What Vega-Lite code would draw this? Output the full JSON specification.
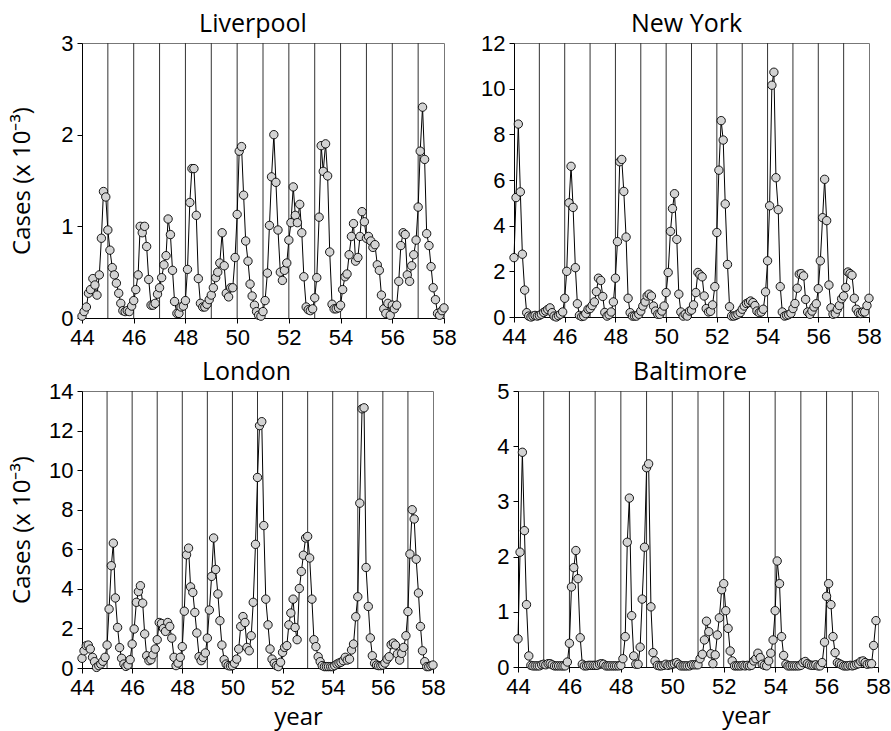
{
"$schema":"https://vega.github.io/schema/vega-lite/v6.json",
"background":"white",
"padding":{"left":9,"top":11,"right":3,"bottom":2},
"config":{
 "view":{"stroke":"#777","strokeWidth":1},
 "axis":{"domainColor":"#000","tickColor":"#000","tickSize":5,"labelPadding":4,"labelFont":"Liberation Sans","labelFontSize":22,"labelColor":"#000","titleFont":"Open Sans","titleFontSize":24,"titleFontWeight":"normal","titleColor":"#000","grid":false,"labelFlush":false,"labelOverlap":false,"labelBound":false,"format":"d"},
 "title":{"font":"Open Sans","fontSize":25,"fontWeight":"normal","color":"#000","offset":-5}
},
"datasets":{
"yrs":[{"t":45},{"t":46},{"t":47},{"t":48},{"t":49},{"t":50},{"t":51},{"t":52},{"t":53},{"t":54},{"t":55},{"t":56},{"t":57}],
"liv":[
{"t":44.00,"v":0.02},{"t":44.08,"v":0.07},{"t":44.17,"v":0.12},{"t":44.25,"v":0.27},{"t":44.33,"v":0.31},{"t":44.42,"v":0.43},{"t":44.50,"v":0.36},{"t":44.58,"v":0.25},{"t":44.67,"v":0.47},{"t":44.75,"v":0.87},{"t":44.83,"v":1.38},{"t":44.92,"v":1.32},
{"t":45.00,"v":0.96},{"t":45.08,"v":0.74},{"t":45.17,"v":0.55},{"t":45.25,"v":0.47},{"t":45.33,"v":0.38},{"t":45.42,"v":0.27},{"t":45.50,"v":0.16},{"t":45.58,"v":0.08},{"t":45.67,"v":0.07},{"t":45.75,"v":0.08},{"t":45.83,"v":0.07},{"t":45.92,"v":0.13},
{"t":46.00,"v":0.19},{"t":46.08,"v":0.31},{"t":46.17,"v":0.47},{"t":46.25,"v":1.0},{"t":46.33,"v":0.93},{"t":46.42,"v":1.0},{"t":46.50,"v":0.78},{"t":46.58,"v":0.42},{"t":46.67,"v":0.14},{"t":46.75,"v":0.14},{"t":46.83,"v":0.16},{"t":46.92,"v":0.26},
{"t":47.00,"v":0.33},{"t":47.08,"v":0.44},{"t":47.17,"v":0.58},{"t":47.25,"v":0.68},{"t":47.33,"v":1.08},{"t":47.42,"v":0.91},{"t":47.50,"v":0.52},{"t":47.58,"v":0.18},{"t":47.67,"v":0.05},{"t":47.75,"v":0.05},{"t":47.83,"v":0.12},{"t":47.92,"v":0.13},
{"t":48.00,"v":0.19},{"t":48.08,"v":0.53},{"t":48.17,"v":1.26},{"t":48.25,"v":1.63},{"t":48.33,"v":1.63},{"t":48.42,"v":1.12},{"t":48.50,"v":0.43},{"t":48.58,"v":0.16},{"t":48.67,"v":0.12},{"t":48.75,"v":0.12},{"t":48.83,"v":0.15},{"t":48.92,"v":0.2},
{"t":49.00,"v":0.25},{"t":49.08,"v":0.33},{"t":49.17,"v":0.44},{"t":49.25,"v":0.5},{"t":49.33,"v":0.6},{"t":49.42,"v":0.93},{"t":49.50,"v":0.57},{"t":49.58,"v":0.27},{"t":49.67,"v":0.23},{"t":49.75,"v":0.33},{"t":49.83,"v":0.33},{"t":49.92,"v":0.66},
{"t":50.00,"v":1.13},{"t":50.08,"v":1.82},{"t":50.17,"v":1.87},{"t":50.25,"v":1.34},{"t":50.33,"v":0.84},{"t":50.42,"v":0.62},{"t":50.50,"v":0.37},{"t":50.58,"v":0.24},{"t":50.67,"v":0.14},{"t":50.75,"v":0.07},{"t":50.83,"v":0.03},{"t":50.92,"v":0.02},
{"t":51.00,"v":0.07},{"t":51.08,"v":0.19},{"t":51.17,"v":0.49},{"t":51.25,"v":1.01},{"t":51.33,"v":1.54},{"t":51.42,"v":2.0},{"t":51.50,"v":1.48},{"t":51.58,"v":0.96},{"t":51.67,"v":0.5},{"t":51.75,"v":0.41},{"t":51.83,"v":0.52},{"t":51.92,"v":0.6},
{"t":52.00,"v":0.85},{"t":52.08,"v":1.04},{"t":52.17,"v":1.43},{"t":52.25,"v":1.12},{"t":52.33,"v":1.04},{"t":52.42,"v":1.24},{"t":52.50,"v":0.93},{"t":52.58,"v":0.45},{"t":52.67,"v":0.12},{"t":52.75,"v":0.09},{"t":52.83,"v":0.08},{"t":52.92,"v":0.1},
{"t":53.00,"v":0.22},{"t":53.08,"v":0.44},{"t":53.17,"v":1.1},{"t":53.25,"v":1.88},{"t":53.33,"v":1.6},{"t":53.42,"v":1.9},{"t":53.50,"v":1.55},{"t":53.58,"v":0.72},{"t":53.67,"v":0.15},{"t":53.75,"v":0.1},{"t":53.83,"v":0.1},{"t":53.92,"v":0.11},
{"t":54.00,"v":0.14},{"t":54.08,"v":0.31},{"t":54.17,"v":0.45},{"t":54.25,"v":0.48},{"t":54.33,"v":0.69},{"t":54.42,"v":0.89},{"t":54.50,"v":1.03},{"t":54.58,"v":0.62},{"t":54.67,"v":0.66},{"t":54.75,"v":0.89},{"t":54.83,"v":1.16},{"t":54.92,"v":1.05},
{"t":55.00,"v":0.87},{"t":55.08,"v":0.89},{"t":55.17,"v":0.84},{"t":55.25,"v":0.77},{"t":55.33,"v":0.8},{"t":55.42,"v":0.58},{"t":55.50,"v":0.52},{"t":55.58,"v":0.25},{"t":55.67,"v":0.1},{"t":55.75,"v":0.05},{"t":55.83,"v":0.16},{"t":55.92,"v":0.03},
{"t":56.00,"v":0.14},{"t":56.08,"v":0.1},{"t":56.17,"v":0.14},{"t":56.25,"v":0.4},{"t":56.33,"v":0.79},{"t":56.42,"v":0.93},{"t":56.50,"v":0.91},{"t":56.58,"v":0.47},{"t":56.67,"v":0.4},{"t":56.75,"v":0.57},{"t":56.83,"v":0.69},{"t":56.92,"v":0.85},
{"t":57.00,"v":1.21},{"t":57.08,"v":1.82},{"t":57.17,"v":2.3},{"t":57.25,"v":1.73},{"t":57.33,"v":0.92},{"t":57.42,"v":0.79},{"t":57.50,"v":0.56},{"t":57.58,"v":0.33},{"t":57.67,"v":0.2},{"t":57.75,"v":0.05},{"t":57.83,"v":0.03},{"t":57.92,"v":0.08},
{"t":58.00,"v":0.11}],
"ny":[
{"t":44.00,"v":2.6},{"t":44.08,"v":5.23},{"t":44.17,"v":8.45},{"t":44.25,"v":5.48},{"t":44.33,"v":2.75},{"t":44.42,"v":1.18},{"t":44.50,"v":0.19},{"t":44.58,"v":0.04},{"t":44.67,"v":0.0},{"t":44.75,"v":0.04},{"t":44.83,"v":0.07},{"t":44.92,"v":0.04},
{"t":45.00,"v":0.07},{"t":45.08,"v":0.12},{"t":45.17,"v":0.2},{"t":45.25,"v":0.26},{"t":45.33,"v":0.33},{"t":45.42,"v":0.4},{"t":45.50,"v":0.19},{"t":45.58,"v":0.04},{"t":45.67,"v":0.0},{"t":45.75,"v":0.06},{"t":45.83,"v":0.12},{"t":45.92,"v":0.22},
{"t":46.00,"v":0.82},{"t":46.08,"v":2.0},{"t":46.17,"v":5.0},{"t":46.25,"v":6.6},{"t":46.33,"v":4.8},{"t":46.42,"v":2.16},{"t":46.50,"v":0.58},{"t":46.58,"v":0.07},{"t":46.67,"v":0.02},{"t":46.75,"v":0.04},{"t":46.83,"v":0.15},{"t":46.92,"v":0.34},
{"t":47.00,"v":0.37},{"t":47.08,"v":0.5},{"t":47.17,"v":0.66},{"t":47.25,"v":1.11},{"t":47.33,"v":1.7},{"t":47.42,"v":1.6},{"t":47.50,"v":0.9},{"t":47.58,"v":0.2},{"t":47.67,"v":0.04},{"t":47.75,"v":0.1},{"t":47.83,"v":0.22},{"t":47.92,"v":0.66},
{"t":48.00,"v":1.7},{"t":48.08,"v":3.3},{"t":48.17,"v":6.8},{"t":48.25,"v":6.9},{"t":48.33,"v":5.5},{"t":48.42,"v":3.5},{"t":48.50,"v":0.82},{"t":48.58,"v":0.19},{"t":48.67,"v":0.04},{"t":48.75,"v":0.04},{"t":48.83,"v":0.04},{"t":48.92,"v":0.12},
{"t":49.00,"v":0.26},{"t":49.08,"v":0.48},{"t":49.17,"v":0.66},{"t":49.25,"v":0.92},{"t":49.33,"v":1.0},{"t":49.42,"v":0.92},{"t":49.50,"v":0.48},{"t":49.58,"v":0.26},{"t":49.67,"v":0.12},{"t":49.75,"v":0.12},{"t":49.83,"v":0.26},{"t":49.92,"v":0.48},
{"t":50.00,"v":1.07},{"t":50.08,"v":1.95},{"t":50.17,"v":3.75},{"t":50.25,"v":4.75},{"t":50.33,"v":5.4},{"t":50.42,"v":3.4},{"t":50.50,"v":1.0},{"t":50.58,"v":0.22},{"t":50.67,"v":0.04},{"t":50.75,"v":0.12},{"t":50.83,"v":0.04},{"t":50.92,"v":0.26},
{"t":51.00,"v":0.3},{"t":51.08,"v":0.53},{"t":51.17,"v":1.07},{"t":51.25,"v":1.95},{"t":51.33,"v":1.85},{"t":51.42,"v":1.76},{"t":51.50,"v":0.92},{"t":51.58,"v":0.37},{"t":51.67,"v":0.22},{"t":51.75,"v":0.25},{"t":51.83,"v":0.53},{"t":51.92,"v":1.33},
{"t":52.00,"v":3.7},{"t":52.08,"v":6.43},{"t":52.17,"v":8.6},{"t":52.25,"v":7.75},{"t":52.33,"v":4.95},{"t":52.42,"v":2.3},{"t":52.50,"v":0.45},{"t":52.58,"v":0.04},{"t":52.67,"v":0.04},{"t":52.75,"v":0.07},{"t":52.83,"v":0.12},{"t":52.92,"v":0.19},
{"t":53.00,"v":0.34},{"t":53.08,"v":0.48},{"t":53.17,"v":0.59},{"t":53.25,"v":0.63},{"t":53.33,"v":0.7},{"t":53.42,"v":0.63},{"t":53.50,"v":0.5},{"t":53.58,"v":0.26},{"t":53.67,"v":0.19},{"t":53.75,"v":0.22},{"t":53.83,"v":0.34},{"t":53.92,"v":1.1},
{"t":54.00,"v":2.46},{"t":54.08,"v":4.87},{"t":54.17,"v":10.15},{"t":54.25,"v":10.72},{"t":54.33,"v":6.1},{"t":54.42,"v":4.7},{"t":54.50,"v":1.33},{"t":54.58,"v":0.22},{"t":54.67,"v":0.04},{"t":54.75,"v":0.07},{"t":54.83,"v":0.1},{"t":54.92,"v":0.16},
{"t":55.00,"v":0.37},{"t":55.08,"v":0.59},{"t":55.17,"v":1.26},{"t":55.25,"v":1.88},{"t":55.33,"v":1.9},{"t":55.42,"v":1.8},{"t":55.50,"v":0.77},{"t":55.58,"v":0.22},{"t":55.67,"v":0.12},{"t":55.75,"v":0.26},{"t":55.83,"v":0.44},{"t":55.92,"v":0.58},
{"t":56.00,"v":1.24},{"t":56.08,"v":2.46},{"t":56.17,"v":4.35},{"t":56.25,"v":6.03},{"t":56.33,"v":4.22},{"t":56.42,"v":1.4},{"t":56.50,"v":0.4},{"t":56.58,"v":0.12},{"t":56.67,"v":0.15},{"t":56.75,"v":0.34},{"t":56.83,"v":0.5},{"t":56.92,"v":0.8},
{"t":57.00,"v":0.92},{"t":57.08,"v":1.29},{"t":57.17,"v":1.97},{"t":57.25,"v":1.9},{"t":57.33,"v":1.83},{"t":57.42,"v":0.82},{"t":57.50,"v":0.34},{"t":57.58,"v":0.19},{"t":57.67,"v":0.15},{"t":57.75,"v":0.22},{"t":57.83,"v":0.22},{"t":57.92,"v":0.5},
{"t":58.00,"v":0.82}],
"lon":[
{"t":44.00,"v":0.49},{"t":44.08,"v":0.87},{"t":44.17,"v":1.13},{"t":44.25,"v":1.16},{"t":44.33,"v":0.96},{"t":44.42,"v":0.54},{"t":44.50,"v":0.32},{"t":44.58,"v":0.03},{"t":44.67,"v":0.12},{"t":44.75,"v":0.2},{"t":44.83,"v":0.34},{"t":44.92,"v":0.54},
{"t":45.00,"v":1.16},{"t":45.08,"v":2.98},{"t":45.17,"v":5.17},{"t":45.25,"v":6.31},{"t":45.33,"v":3.54},{"t":45.42,"v":2.05},{"t":45.50,"v":1.03},{"t":45.58,"v":0.49},{"t":45.67,"v":0.2},{"t":45.75,"v":0.08},{"t":45.83,"v":0.15},{"t":45.92,"v":0.42},
{"t":46.00,"v":1.21},{"t":46.08,"v":1.97},{"t":46.17,"v":3.32},{"t":46.25,"v":3.86},{"t":46.33,"v":4.16},{"t":46.42,"v":3.28},{"t":46.50,"v":1.72},{"t":46.58,"v":0.62},{"t":46.67,"v":0.37},{"t":46.75,"v":0.42},{"t":46.83,"v":0.67},{"t":46.92,"v":0.96},
{"t":47.00,"v":1.43},{"t":47.08,"v":2.3},{"t":47.17,"v":2.25},{"t":47.25,"v":2.0},{"t":47.33,"v":1.85},{"t":47.42,"v":2.3},{"t":47.50,"v":2.1},{"t":47.58,"v":1.51},{"t":47.67,"v":0.54},{"t":47.75,"v":0.12},{"t":47.83,"v":0.25},{"t":47.92,"v":0.54},
{"t":48.00,"v":1.08},{"t":48.08,"v":2.87},{"t":48.17,"v":5.72},{"t":48.25,"v":6.06},{"t":48.33,"v":4.1},{"t":48.42,"v":3.82},{"t":48.50,"v":2.81},{"t":48.58,"v":1.77},{"t":48.67,"v":0.57},{"t":48.75,"v":0.37},{"t":48.83,"v":0.54},{"t":48.92,"v":0.76},
{"t":49.00,"v":1.51},{"t":49.08,"v":2.93},{"t":49.17,"v":4.63},{"t":49.25,"v":6.57},{"t":49.33,"v":4.98},{"t":49.42,"v":3.74},{"t":49.50,"v":2.39},{"t":49.58,"v":1.16},{"t":49.67,"v":0.42},{"t":49.75,"v":0.2},{"t":49.83,"v":0.12},{"t":49.92,"v":0.1},
{"t":50.00,"v":0.12},{"t":50.08,"v":0.24},{"t":50.17,"v":0.45},{"t":50.25,"v":0.96},{"t":50.33,"v":2.1},{"t":50.42,"v":2.6},{"t":50.50,"v":2.3},{"t":50.58,"v":1.04},{"t":50.67,"v":0.87},{"t":50.75,"v":1.63},{"t":50.83,"v":3.32},{"t":50.92,"v":6.25},
{"t":51.00,"v":9.63},{"t":51.08,"v":12.25},{"t":51.17,"v":12.45},{"t":51.25,"v":7.2},{"t":51.33,"v":3.48},{"t":51.42,"v":2.18},{"t":51.50,"v":0.96},{"t":51.58,"v":0.45},{"t":51.67,"v":0.24},{"t":51.75,"v":0.12},{"t":51.83,"v":0.07},{"t":51.92,"v":0.29},
{"t":52.00,"v":0.79},{"t":52.08,"v":1.04},{"t":52.17,"v":1.13},{"t":52.25,"v":2.18},{"t":52.33,"v":2.78},{"t":52.42,"v":3.48},{"t":52.50,"v":2.05},{"t":52.58,"v":1.43},{"t":52.67,"v":4.02},{"t":52.75,"v":4.88},{"t":52.83,"v":5.7},{"t":52.92,"v":6.57},
{"t":53.00,"v":6.65},{"t":53.08,"v":5.56},{"t":53.17,"v":3.48},{"t":53.25,"v":1.43},{"t":53.33,"v":1.08},{"t":53.42,"v":0.57},{"t":53.50,"v":0.32},{"t":53.58,"v":0.12},{"t":53.67,"v":0.07},{"t":53.75,"v":0.07},{"t":53.83,"v":0.07},{"t":53.92,"v":0.07},
{"t":54.00,"v":0.07},{"t":54.08,"v":0.12},{"t":54.17,"v":0.2},{"t":54.25,"v":0.25},{"t":54.33,"v":0.29},{"t":54.42,"v":0.37},{"t":54.50,"v":0.54},{"t":54.58,"v":0.4},{"t":54.67,"v":0.45},{"t":54.75,"v":0.91},{"t":54.83,"v":1.21},{"t":54.92,"v":2.59},
{"t":55.00,"v":3.6},{"t":55.08,"v":8.33},{"t":55.17,"v":13.1},{"t":55.25,"v":13.15},{"t":55.33,"v":5.08},{"t":55.42,"v":3.11},{"t":55.50,"v":1.52},{"t":55.58,"v":0.62},{"t":55.67,"v":0.24},{"t":55.75,"v":0.15},{"t":55.83,"v":0.12},{"t":55.92,"v":0.12},
{"t":56.00,"v":0.15},{"t":56.08,"v":0.25},{"t":56.17,"v":0.45},{"t":56.25,"v":0.57},{"t":56.33,"v":1.18},{"t":56.42,"v":1.26},{"t":56.50,"v":1.16},{"t":56.58,"v":0.71},{"t":56.67,"v":0.4},{"t":56.75,"v":0.74},{"t":56.83,"v":1.04},{"t":56.92,"v":1.63},
{"t":57.00,"v":2.85},{"t":57.08,"v":5.76},{"t":57.17,"v":8.0},{"t":57.25,"v":7.53},{"t":57.33,"v":5.5},{"t":57.42,"v":3.79},{"t":57.50,"v":2.1},{"t":57.58,"v":0.87},{"t":57.67,"v":0.32},{"t":57.75,"v":0.07},{"t":57.83,"v":0.07},{"t":57.92,"v":0.12},
{"t":58.00,"v":0.15}],
"bal":[
{"t":44.00,"v":0.51},{"t":44.08,"v":2.08},{"t":44.17,"v":3.89},{"t":44.25,"v":2.47},{"t":44.33,"v":1.13},{"t":44.42,"v":0.2},{"t":44.50,"v":0.03},{"t":44.58,"v":0.02},{"t":44.67,"v":0.02},{"t":44.75,"v":0.02},{"t":44.83,"v":0.02},{"t":44.92,"v":0.04},
{"t":45.00,"v":0.05},{"t":45.08,"v":0.04},{"t":45.17,"v":0.06},{"t":45.25,"v":0.06},{"t":45.33,"v":0.04},{"t":45.42,"v":0.02},{"t":45.50,"v":0.02},{"t":45.58,"v":0.02},{"t":45.67,"v":0.02},{"t":45.75,"v":0.02},{"t":45.83,"v":0.02},{"t":45.92,"v":0.09},
{"t":46.00,"v":0.43},{"t":46.08,"v":1.45},{"t":46.17,"v":1.8},{"t":46.25,"v":2.11},{"t":46.33,"v":1.6},{"t":46.42,"v":0.53},{"t":46.50,"v":0.05},{"t":46.58,"v":0.02},{"t":46.67,"v":0.02},{"t":46.75,"v":0.03},{"t":46.83,"v":0.03},{"t":46.92,"v":0.03},
{"t":47.00,"v":0.03},{"t":47.08,"v":0.03},{"t":47.17,"v":0.05},{"t":47.25,"v":0.06},{"t":47.33,"v":0.05},{"t":47.42,"v":0.02},{"t":47.50,"v":0.02},{"t":47.58,"v":0.02},{"t":47.67,"v":0.02},{"t":47.75,"v":0.02},{"t":47.83,"v":0.02},{"t":47.92,"v":0.02},
{"t":48.00,"v":0.03},{"t":48.08,"v":0.15},{"t":48.17,"v":0.55},{"t":48.25,"v":2.26},{"t":48.33,"v":3.06},{"t":48.42,"v":0.93},{"t":48.50,"v":0.2},{"t":48.58,"v":0.05},{"t":48.67,"v":0.05},{"t":48.75,"v":0.36},{"t":48.83,"v":1.23},{"t":48.92,"v":2.17},
{"t":49.00,"v":3.61},{"t":49.08,"v":3.68},{"t":49.17,"v":1.09},{"t":49.25,"v":0.26},{"t":49.33,"v":0.11},{"t":49.42,"v":0.03},{"t":49.50,"v":0.02},{"t":49.58,"v":0.02},{"t":49.67,"v":0.03},{"t":49.75,"v":0.05},{"t":49.83,"v":0.03},{"t":49.92,"v":0.04},
{"t":50.00,"v":0.05},{"t":50.08,"v":0.06},{"t":50.17,"v":0.08},{"t":50.25,"v":0.05},{"t":50.33,"v":0.02},{"t":50.42,"v":0.02},{"t":50.50,"v":0.02},{"t":50.58,"v":0.02},{"t":50.67,"v":0.02},{"t":50.75,"v":0.04},{"t":50.83,"v":0.04},{"t":50.92,"v":0.04},
{"t":51.00,"v":0.04},{"t":51.08,"v":0.15},{"t":51.17,"v":0.23},{"t":51.25,"v":0.49},{"t":51.33,"v":0.83},{"t":51.42,"v":0.64},{"t":51.50,"v":0.24},{"t":51.58,"v":0.06},{"t":51.67,"v":0.22},{"t":51.75,"v":0.58},{"t":51.83,"v":0.89},{"t":51.92,"v":1.4},
{"t":52.00,"v":1.51},{"t":52.08,"v":1.02},{"t":52.17,"v":0.7},{"t":52.25,"v":0.29},{"t":52.33,"v":0.11},{"t":52.42,"v":0.02},{"t":52.50,"v":0.02},{"t":52.58,"v":0.02},{"t":52.67,"v":0.02},{"t":52.75,"v":0.03},{"t":52.83,"v":0.02},{"t":52.92,"v":0.03},
{"t":53.00,"v":0.02},{"t":53.08,"v":0.03},{"t":53.17,"v":0.11},{"t":53.25,"v":0.15},{"t":53.33,"v":0.25},{"t":53.42,"v":0.17},{"t":53.50,"v":0.05},{"t":53.58,"v":0.03},{"t":53.67,"v":0.02},{"t":53.75,"v":0.11},{"t":53.83,"v":0.25},{"t":53.92,"v":0.49},
{"t":54.00,"v":1.02},{"t":54.08,"v":1.92},{"t":54.17,"v":1.51},{"t":54.25,"v":0.55},{"t":54.33,"v":0.21},{"t":54.42,"v":0.05},{"t":54.50,"v":0.02},{"t":54.58,"v":0.02},{"t":54.67,"v":0.02},{"t":54.75,"v":0.02},{"t":54.83,"v":0.02},{"t":54.92,"v":0.02},
{"t":55.00,"v":0.03},{"t":55.08,"v":0.08},{"t":55.17,"v":0.1},{"t":55.25,"v":0.06},{"t":55.33,"v":0.04},{"t":55.42,"v":0.03},{"t":55.50,"v":0.03},{"t":55.58,"v":0.04},{"t":55.67,"v":0.02},{"t":55.75,"v":0.02},{"t":55.83,"v":0.08},{"t":55.92,"v":0.45},
{"t":56.00,"v":1.28},{"t":56.08,"v":1.51},{"t":56.17,"v":1.13},{"t":56.25,"v":0.55},{"t":56.33,"v":0.26},{"t":56.42,"v":0.08},{"t":56.50,"v":0.06},{"t":56.58,"v":0.04},{"t":56.67,"v":0.02},{"t":56.75,"v":0.02},{"t":56.83,"v":0.02},{"t":56.92,"v":0.03},
{"t":57.00,"v":0.02},{"t":57.08,"v":0.03},{"t":57.17,"v":0.05},{"t":57.25,"v":0.06},{"t":57.33,"v":0.1},{"t":57.42,"v":0.11},{"t":57.50,"v":0.08},{"t":57.58,"v":0.05},{"t":57.67,"v":0.06},{"t":57.75,"v":0.06},{"t":57.83,"v":0.39},{"t":57.92,"v":0.84}]
},
"vconcat":[
 {"hconcat":[
  {"width":362,"height":275,"title":{"text":"Liverpool","dx":-10},
   "encoding":{"x":{"field":"t","type":"quantitative","scale":{"domain":[44,58],"nice":false,"zero":false},"axis":{"values":[44,46,48,50,52,54,56,58],"title":null,"labelOverlap":false,"format":"d"}}},
   "layer":[
    {"data":{"name":"yrs"},"mark":{"type":"rule","color":"#333","strokeWidth":1}},
    {"data":{"name":"liv"},"mark":{"type":"line","color":"#000","strokeWidth":1},"encoding":{"y":{"field":"v","type":"quantitative","scale":{"domain":[0,3],"nice":false},"axis":{"values":[0,1,2,3],"format":"d","labelOverlap":false,"title":"Cases (x 10⁻³)","titleX":-60,"titleAngle":270,"titleBaseline":"middle"}}}},
    {"data":{"name":"liv"},"mark":{"type":"circle","fill":"#d3d3d3","stroke":"#000","strokeWidth":0.9,"size":70,"opacity":1},"encoding":{"y":{"field":"v","type":"quantitative","axis":{"values":[0,1,2,3],"format":"d","labelOverlap":false,"title":"Cases (x 10⁻³)","titleX":-60,"titleAngle":270,"titleBaseline":"middle"}}}}
   ]},
  {"width":355,"height":274,"title":{"text":"New York","dx":-5},
   "encoding":{"x":{"field":"t","type":"quantitative","scale":{"domain":[44,58],"nice":false,"zero":false},"axis":{"values":[44,46,48,50,52,54,56,58],"title":null,"labelOverlap":false,"format":"d"}}},
   "layer":[
    {"data":{"name":"yrs"},"mark":{"type":"rule","color":"#333","strokeWidth":1}},
    {"data":{"name":"ny"},"mark":{"type":"line","color":"#000","strokeWidth":1},"encoding":{"y":{"field":"v","type":"quantitative","scale":{"domain":[0,12],"nice":false},"axis":{"values":[0,2,4,6,8,10,12],"format":"d","labelOverlap":false,"title":null}}}},
    {"data":{"name":"ny"},"mark":{"type":"circle","fill":"#d3d3d3","stroke":"#000","strokeWidth":0.9,"size":70,"opacity":1},"encoding":{"y":{"field":"v","type":"quantitative","axis":{"values":[0,2,4,6,8,10,12],"format":"d","labelOverlap":false,"title":null}}}}
   ]}
 ],"spacing":23},
 {"hconcat":[
  {"width":351,"height":277,"title":{"text":"London","dx":-11},
   "encoding":{"x":{"field":"t","type":"quantitative","scale":{"domain":[44,58],"nice":false,"zero":false},"axis":{"values":[44,46,48,50,52,54,56,58],"labelOverlap":false,"format":"d","title":"year","titleX":216,"titleY":56,"titleBaseline":"alphabetic"}}},
   "layer":[
    {"data":{"name":"yrs"},"mark":{"type":"rule","color":"#333","strokeWidth":1}},
    {"data":{"name":"lon"},"mark":{"type":"line","color":"#000","strokeWidth":1},"encoding":{"y":{"field":"v","type":"quantitative","scale":{"domain":[0,14],"nice":false},"axis":{"values":[0,2,4,6,8,10,12,14],"tickCount":8,"format":"d","labelOverlap":false,"title":"Cases (x 10⁻³)","titleX":-60,"titleAngle":270,"titleBaseline":"middle"}}}},
    {"data":{"name":"lon"},"mark":{"type":"circle","fill":"#d3d3d3","stroke":"#000","strokeWidth":0.9,"size":70,"opacity":1},"encoding":{"y":{"field":"v","type":"quantitative","axis":{"values":[0,2,4,6,8,10,12,14],"tickCount":8,"format":"d","labelOverlap":false,"title":"Cases (x 10⁻³)","titleX":-60,"titleAngle":270,"titleBaseline":"middle"}}}}
   ]},
  {"width":360,"height":276,"title":{"text":"Baltimore","dx":-8},
   "encoding":{"x":{"field":"t","type":"quantitative","scale":{"domain":[44,58],"nice":false,"zero":false},"axis":{"values":[44,46,48,50,52,54,56,58],"labelOverlap":false,"format":"d","title":"year","titleX":228,"titleY":56,"titleBaseline":"alphabetic"}}},
   "layer":[
    {"data":{"name":"yrs"},"mark":{"type":"rule","color":"#333","strokeWidth":1}},
    {"data":{"name":"bal"},"mark":{"type":"line","color":"#000","strokeWidth":1},"encoding":{"y":{"field":"v","type":"quantitative","scale":{"domain":[0,5],"nice":false},"axis":{"values":[0,1,2,3,4,5],"format":"d","labelOverlap":false,"title":null}}}},
    {"data":{"name":"bal"},"mark":{"type":"circle","fill":"#d3d3d3","stroke":"#000","strokeWidth":0.9,"size":70,"opacity":1},"encoding":{"y":{"field":"v","type":"quantitative","axis":{"values":[0,1,2,3,4,5],"format":"d","labelOverlap":false,"title":null}}}}
   ]}
 ],"spacing":50}
],
"spacing":10
}
